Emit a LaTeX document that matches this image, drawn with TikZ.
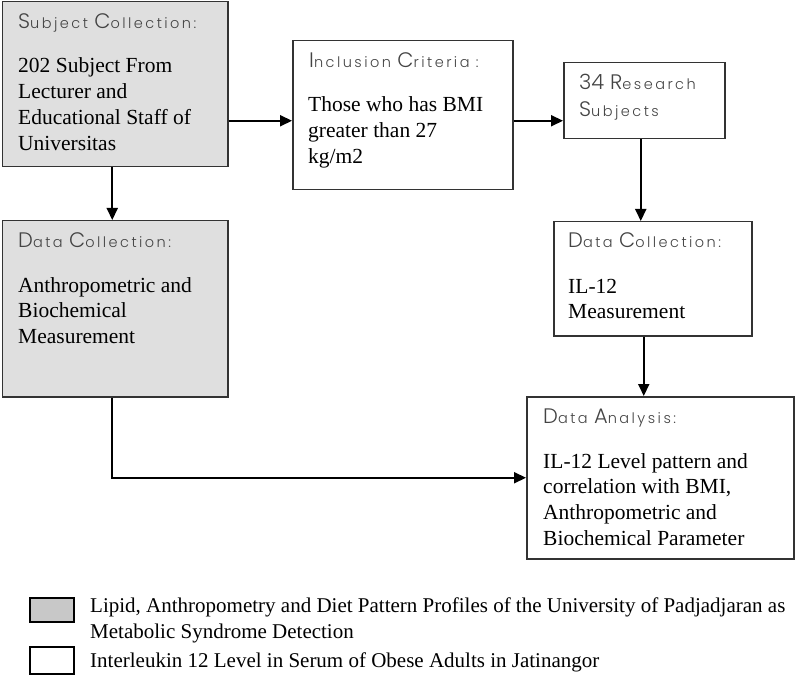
\documentclass[tikz,border=0pt]{standalone}
\usepackage{fontspec}
\setmainfont{Liberation Serif}
\newfontfamily\hdcap{Poppins Light}
\newfontfamily\hdlow{Poppins Light}[LetterSpace=17]
\usetikzlibrary{arrows.meta,calc}
\definecolor{boxgray}{HTML}{DFDFDF}
\definecolor{leggray}{HTML}{C8C8C8}
\definecolor{hdcol}{HTML}{444444}
\definecolor{edgecol}{HTML}{333333}
\newcommand\Hc[1]{{\fontsize{21}{24}\hdcap\selectfont #1}}
\newcommand\Hl[1]{{\fontsize{14.5}{24}\hdlow\selectfont #1}}
\newcommand\lines[1]{\begin{tabular}[t]{@{}l@{}}#1\end{tabular}}
\begin{document}
\begin{tikzpicture}[x=1pt,y=-1pt,
  box/.style={draw=edgecol, line width=1.5pt, anchor=north west, inner sep=0pt},
  graybox/.style={box, fill=boxgray},
  hd/.style={anchor=base west, inner sep=0pt, text=hdcol, font=\fontsize{20}{27}\selectfont},
  body/.style={anchor=base west, inner sep=0pt, font=\fontsize{21.5}{25.7}\selectfont},
  legtext/.style={anchor=base west, inner sep=0pt, font=\fontsize{21}{26}\selectfont},
  legbox/.style={draw=black, line width=2pt, anchor=north west, minimum width=44pt, inner sep=0pt},
  arr/.style={line width=2pt, -{Triangle[length=12pt,width=11pt]}}
]
\useasboundingbox (0,0) rectangle (800,676);

% boxes
\node[graybox, minimum width=225.5pt, minimum height=165pt] (b1) at (1.5,0.75) {};
\node[graybox, minimum width=225.5pt, minimum height=176pt] (b2) at (1.5,220) {};
\node[box, minimum width=220pt, minimum height=149pt] (b3) at (292,40) {};
\node[box, minimum width=161pt, minimum height=76pt] (b4) at (563,62) {};
\node[box, minimum width=198pt, minimum height=114pt] (b5) at (553,221) {};
\node[box, minimum width=267pt, minimum height=162pt] (b6) at (526,396) {};

% texts
\node[hd] (h1) at (18,29) {\Hc{S}\Hl{ubject }\Hc{C}\Hl{ollection:}};
\node[body] (t1) at (18,73) {\lines{202 Subject From\\Lecturer and\\Educational Staff of\\Universitas}};

\node[hd] (h2) at (18,248) {\Hc{D}\Hl{ata }\Hc{C}\Hl{ollection:}};
\node[body] (t2) at (18,292) {\lines{Anthropometric and\\Biochemical\\Measurement}};

\node[hd] (h3) at (309,68) {\Hc{I}\Hl{nclusion }\Hc{C}\Hl{riteria :}};
\node[body] (t3) at (308,112) {\lines{Those who has BMI\\greater than 27\\kg/m2}};

\node[hd] (h4) at (579,90) {\lines{\Hc{34 R}\Hl{esearch}\\\Hc{S}\Hl{ubjects}}};

\node[hd] (h5) at (568,248) {\Hc{D}\Hl{ata }\Hc{C}\Hl{ollection:}};
\node[body] (t5) at (568,293) {\lines{IL-12\\Measurement}};

\node[hd] (h6) at (543,423) {\Hc{D}\Hl{ata }\Hc{A}\Hl{nalysis:}};
\node[body] (t6) at (543,468) {\lines{IL-12 Level pattern and\\correlation with BMI,\\Anthropometric and\\Biochemical Parameter}};

% connectors
\coordinate (r1) at ($(b3.west)+(0,5.5)$);
\draw[arr] ([xshift=-2.75pt]b1.south) -- ([xshift=-2.75pt]b2.north);
\draw[arr] (r1 -| b1.east) -- (r1);
\draw[arr] (b3.east |- r1) -- (b4.west |- r1);
\draw[arr] ([xshift=-3.5pt]b4.south) -- ([xshift=-3.5pt]b4.south |- b5.north);
\draw[arr] ([xshift=-9pt]b5.south) -- ([xshift=-9pt]b5.south |- b6.north);
\draw[arr] ([xshift=-2.75pt]b2.south) |- (b6.west);

% legend
\node[legbox, fill=leggray, minimum height=24pt] (lg1) at (29,597) {};
\node[legbox, fill=white, minimum height=27pt] (lg2) at (29,646) {};
\node[legtext] (l1) at (90,612) {\lines{Lipid, Anthropometry and Diet Pattern Profiles of the University of Padjadjaran as\\Metabolic Syndrome Detection}};
\node[legtext] (l2) at (90,667) {Interleukin 12 Level in Serum of Obese Adults in Jatinangor};
\end{tikzpicture}
\end{document}
